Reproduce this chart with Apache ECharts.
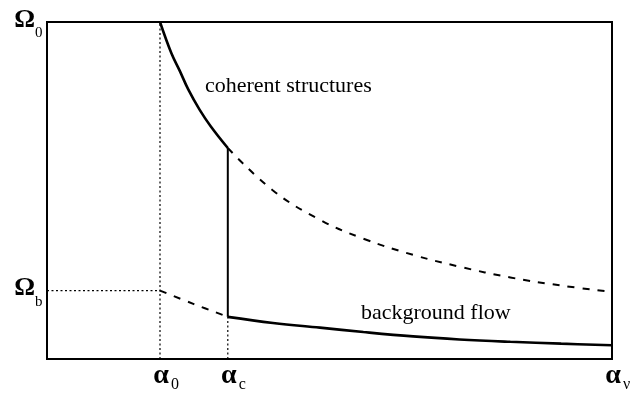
<!DOCTYPE html>
<html>
<head>
<meta charset="utf-8">
<script src="https://cdn.jsdelivr.net/npm/echarts@6/dist/echarts.min.js"></script>
<style>
html, body { margin: 0; padding: 0; background: #fff; }
#chart { width: 636px; height: 397px; }
</style>
</head>
<body>
<div id="chart"></div>
<script>
// Axis marks: wavenumber ticks (alpha) and vorticity ticks (Omega)
const alphaTicks = [2.0, 3.2, 10];
const alphaSubs = ['0', 'c', 'ν'];
const omegaTicks = [10, 2.03];
const omegaSubs = ['0', 'b'];

// Coherent-structure branch: solid up to alpha_c, dashed beyond
const upperSolidA = [2.0, 2.2, 2.35, 2.5, 2.7, 2.9, 3.2];
const upperSolidW = [10.0, 9.08, 8.55, 8.0, 7.4, 6.9, 6.26];
const upperDashA = [3.2, 4.0, 4.83, 5.6, 6.48, 7.3, 8.2, 9.1, 10.0];
const upperDashW = [6.26, 5.0, 4.13, 3.57, 3.09, 2.74, 2.42, 2.18, 1.99];

// Background-flow branch: dashed up to alpha_c, solid beyond
const lowerDashA = [2.0, 2.6, 3.2];
const lowerDashW = [2.03, 1.63, 1.25];
const lowerSolidA = [3.2, 4.0, 4.83, 5.6, 6.48, 7.3, 8.2, 9.1, 10.0];
const lowerSolidW = [1.25, 1.07, 0.93, 0.8, 0.67, 0.58, 0.51, 0.455, 0.41];

const curveLabels = ['coherent structures', 'background flow'];

const pairs = (xs, ys) => xs.map((x, i) => [x, ys[i]]);
const SERIF = '"Liberation Serif", "Times New Roman", serif';

function lineSeries(data, width, type, smooth) {
  return {
    type: 'line',
    data: data,
    showSymbol: false,
    symbol: 'none',
    smooth: smooth ? 0.4 : false,
    silent: true,
    lineStyle: { color: '#000', width: width, type: type, cap: 'butt' },
    z: 3
  };
}

const chart = echarts.init(document.getElementById('chart'), null, { renderer: 'canvas' });

const aC = alphaTicks[1];
const a0 = alphaTicks[0];
const wB = omegaTicks[1];
const wTop = omegaTicks[0];

chart.setOption({
  animation: false,
  backgroundColor: '#fff',
  grid: {
    left: 47, right: 24, top: 22, bottom: 38,
    show: true, borderColor: '#000', borderWidth: 2, backgroundColor: 'transparent'
  },
  xAxis: {
    type: 'value', min: 0, max: 10,
    axisLine: { show: false }, axisTick: { show: false },
    axisLabel: { show: false }, splitLine: { show: false }
  },
  yAxis: {
    type: 'value', min: 0, max: 10,
    axisLine: { show: false }, axisTick: { show: false },
    axisLabel: { show: false }, splitLine: { show: false }
  },
  series: [
    // guide lines
    lineSeries([[a0, 0], [a0, wTop]], 1.2, [2, 2.5], false),
    lineSeries([[aC, 0], [aC, lowerSolidW[0]]], 1.2, [2, 2.5], false),
    lineSeries([[0, wB], [a0, wB]], 1.2, [2, 2.5], false),
    // transition at alpha_c
    lineSeries([[aC, lowerSolidW[0]], [aC, upperSolidW[upperSolidW.length - 1]]], 2, 'solid', false),
    // branches
    lineSeries(pairs(upperSolidA, upperSolidW), 2.6, 'solid', true),
    lineSeries(pairs(upperDashA, upperDashW), 2, [7, 8], true),
    lineSeries(pairs(lowerDashA, lowerDashW), 2, [7, 8], true),
    lineSeries(pairs(lowerSolidA, lowerSolidW), 2.6, 'solid', true)
  ]
});

// Symbol labels placed at the axis positions they name
const px = (x, y) => chart.convertToPixel({ gridIndex: 0 }, [x, y]);
const graphics = [];
const base = px(0, 0);

alphaTicks.forEach((a, i) => {
  const p = px(a, 0);
  graphics.push({
    type: 'text', x: p[0] + 1, y: base[1] + 17,
    style: { text: 'α', font: 'bold 28px ' + SERIF, fill: '#000', align: 'center', verticalAlign: 'middle' }
  });
  graphics.push({
    type: 'text', x: p[0] + 11, y: base[1] + 26,
    style: { text: alphaSubs[i], font: '16px ' + SERIF, fill: '#000', align: 'left', verticalAlign: 'middle' }
  });
});

omegaTicks.forEach((w, i) => {
  const p = px(0, w);
  graphics.push({
    type: 'text', x: p[0] - 12, y: p[1] - 2,
    style: { text: 'Ω', font: 'bold 26px ' + SERIF, fill: '#000', align: 'right', verticalAlign: 'middle' }
  });
  graphics.push({
    type: 'text', x: p[0] - 12, y: p[1] + 11,
    style: { text: omegaSubs[i], font: '15px ' + SERIF, fill: '#000', align: 'left', verticalAlign: 'middle' }
  });
});

graphics.push({
  type: 'text', x: 205, y: 86,
  style: { text: curveLabels[0], font: '22px ' + SERIF, fill: '#000', align: 'left', verticalAlign: 'middle' }
});
graphics.push({
  type: 'text', x: 361, y: 313,
  style: { text: curveLabels[1], font: '22px ' + SERIF, fill: '#000', align: 'left', verticalAlign: 'middle' }
});

chart.setOption({ graphic: graphics });
</script>
</body>
</html>
